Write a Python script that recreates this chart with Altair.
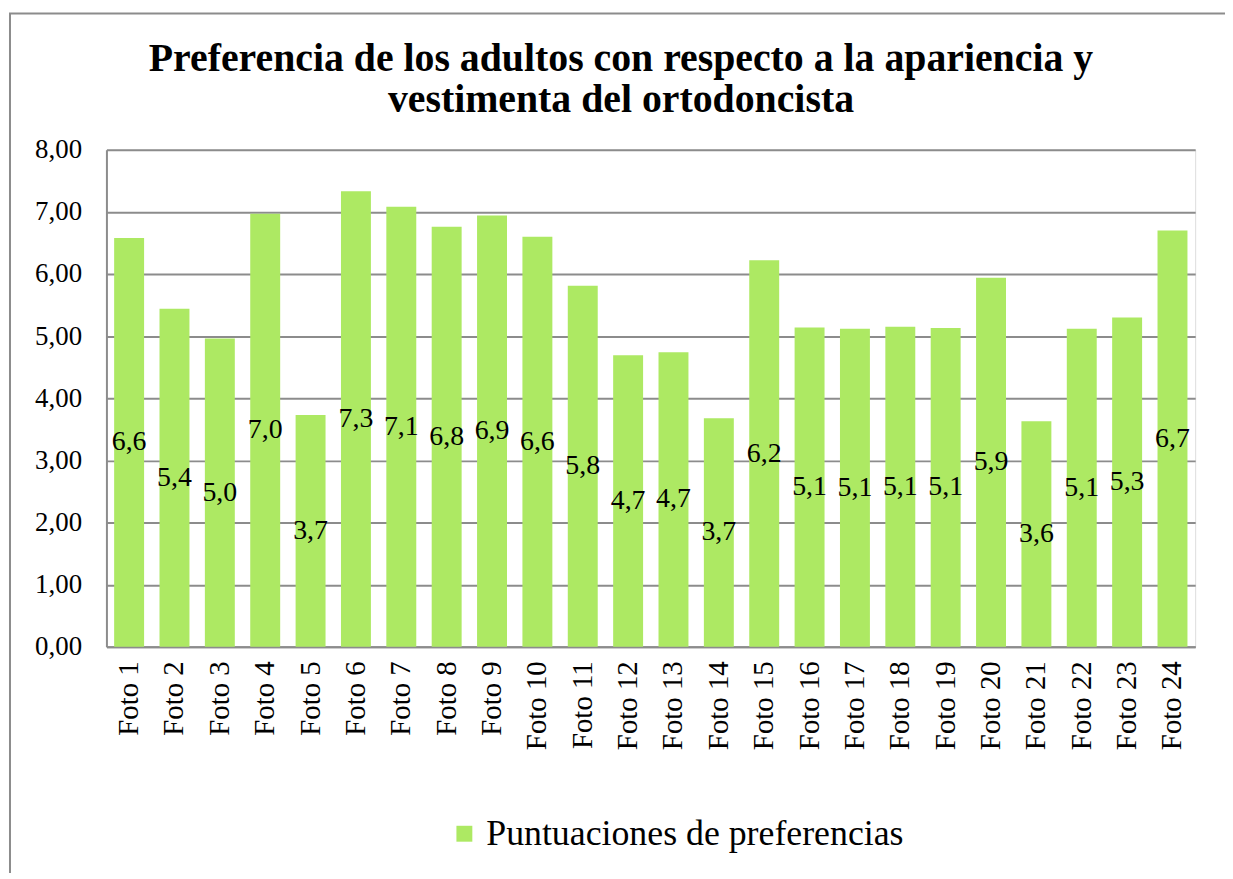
import altair as alt
import pandas as pd

categorias = [f"Foto {i}" for i in range(1, 25)]
valores = [6.58, 5.44, 4.96, 6.97, 3.73, 7.33, 7.08, 6.76, 6.94, 6.60, 5.81, 4.69,
           4.74, 3.68, 6.22, 5.14, 5.12, 5.15, 5.13, 5.94, 3.63, 5.12, 5.30, 6.70]
etiquetas = ["6,6", "5,4", "5,0", "7,0", "3,7", "7,3", "7,1", "6,8", "6,9", "6,6", "5,8", "4,7",
             "4,7", "3,7", "6,2", "5,1", "5,1", "5,1", "5,1", "5,9", "3,6", "5,1", "5,3", "6,7"]
serie = "Puntuaciones de preferencias"

df = pd.DataFrame({"foto": categorias, "valor": valores, "etiqueta": etiquetas, "serie": serie})

FONT = "Liberation Serif"
GREEN = "#ADE963"
GRAY = "#8C8C8C"

frame = alt.Chart(pd.DataFrame({"a": [0]})).mark_rect(
    fill=None, fillOpacity=0, stroke=GRAY, strokeWidth=2
).encode(
    x=alt.value(-97), x2=alt.value(1150), y=alt.value(-137), y2=alt.value(780)
)

x_enc = alt.X(
    "foto:N", sort=categorias, title=None,
    scale=alt.Scale(paddingInner=0.34, paddingOuter=0.17),
    axis=alt.Axis(labelAngle=-90, labelFont=FONT, labelFontSize=29, labelColor="black",
                  ticks=False, labelPadding=14, domainColor=GRAY, domainWidth=2, grid=False),
)

bars = alt.Chart(df).mark_bar(color=GREEN).encode(
    x=x_enc,
    y=alt.Y("valor:Q", title=None, scale=alt.Scale(domain=[0, 8], nice=False),
            axis=alt.Axis(values=[0, 1, 2, 3, 4, 5, 6, 7, 8],
                          labelExpr="replace(format(datum.value, '.2f'), '.', ',')",
                          labelFont=FONT, labelFontSize=27, labelColor="black",
                          ticks=False, labelPadding=25, domainColor=GRAY, domainWidth=2,
                          gridColor=GRAY, gridWidth=2)),
    color=alt.Color("serie:N", scale=alt.Scale(range=[GREEN]),
                    legend=alt.Legend(title=None, orient="none", legendX=342, legendY=670,
                                      symbolType="square", symbolSize=256, symbolStrokeWidth=0,
                                      labelFont=FONT, labelFontSize=36, labelColor="black",
                                      labelLimit=700, labelOffset=4)),
)

labels = alt.Chart(df).transform_calculate(mid="datum.valor / 2").mark_text(
    font=FONT, fontSize=28, color="black", baseline="middle", align="center"
).encode(
    x=alt.X("foto:N", sort=categorias),
    y=alt.Y("mid:Q"),
    text="etiqueta:N",
)

chart = alt.layer(frame, bars, labels).properties(
    width=1095, height=500,
    autosize=alt.AutoSizeParams(type="none"),
    padding={"left": 99, "top": 140, "right": 30, "bottom": 225},
    title=alt.TitleParams(
        text=["Preferencia de los adultos con respecto a la apariencia y",
              "vestimenta del ortodoncista"],
        font=FONT, fontSize=40, fontWeight="bold", color="black",
        anchor="middle", dx=-30, lineHeight=41, offset=0, dy=108,
    ),
).configure_view(stroke=None).configure(background="white")

chart.save("out.html", embed_options={"renderer": "svg", "actions": False})
